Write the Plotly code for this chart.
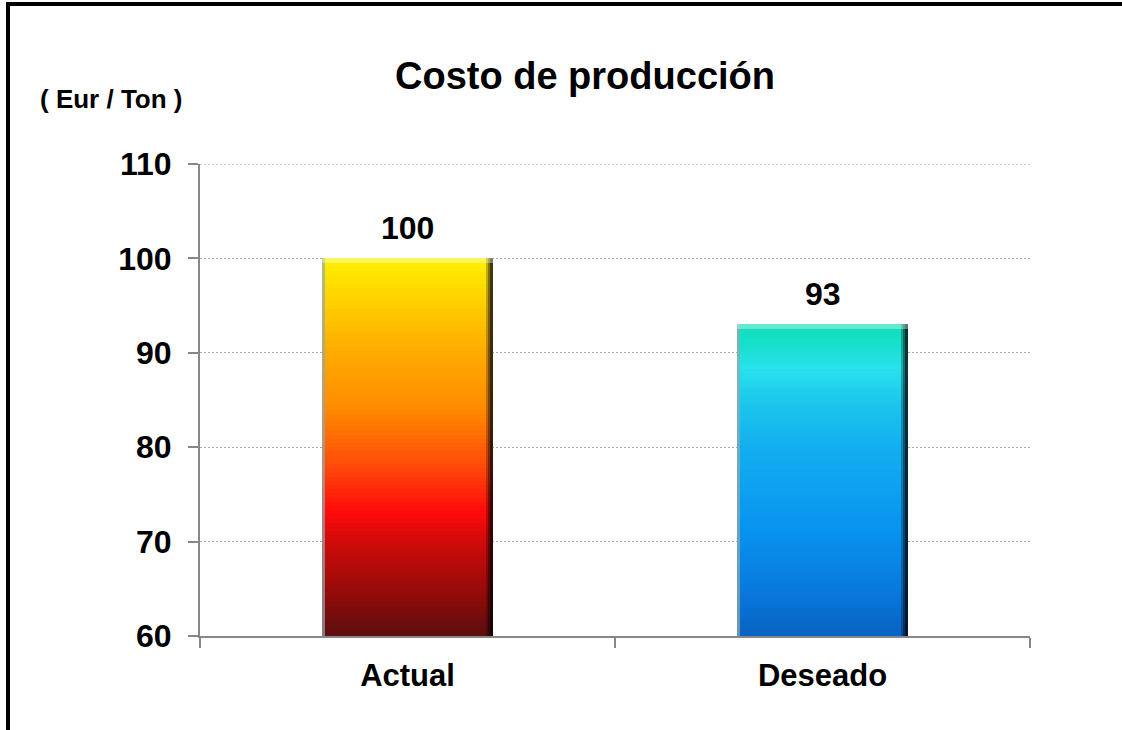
import plotly.graph_objects as go

# ---- data ----
categories = ["Actual", "Deseado"]
values = [100, 93]
y_tick_values = [60, 70, 80, 90, 100, 110]
title_text = "Costo de producción"
unit_text = "( Eur / Ton )"

# ---- style ----
Y_MIN, Y_MAX = 60, 110
BAR_W = 0.41
N_SEG = 90
FONT = "Liberation Sans"
GRID = dict(color="#a8a8a8", width=1, dash="2px,2px")
gradients = {
    "Actual": [
        (0.00, "#5C0E10"), (0.10, "#8E0A0A"), (0.25, "#D00A0A"), (0.33, "#FF0A0A"),
        (0.45, "#FF4A0A"), (0.60, "#FF8A00"), (0.75, "#FFAA00"), (0.90, "#FFD400"),
        (1.00, "#FFF200"),
    ],
    "Deseado": [
        (0.00, "#0862C2"), (0.15, "#087ADE"), (0.35, "#0894F0"), (0.60, "#12AEF0"),
        (0.75, "#1CC6EC"), (0.86, "#28E2EC"), (0.94, "#16E0CC"), (1.00, "#10DEB6"),
    ],
}


def hex2rgb(h):
    h = h.lstrip("#")
    return tuple(int(h[i:i + 2], 16) for i in (0, 2, 4))


def interp(stops, t):
    for (t0, c0), (t1, c1) in zip(stops[:-1], stops[1:]):
        if t0 <= t <= t1:
            f = 0 if t1 == t0 else (t - t0) / (t1 - t0)
            a, b = hex2rgb(c0), hex2rgb(c1)
            r = [round(a[k] + (b[k] - a[k]) * f) for k in range(3)]
            return f"rgb({r[0]},{r[1]},{r[2]})"
    return stops[-1][1]


seg_x, seg_base, seg_h, seg_col = [], [], [], []
for cat, val in zip(categories, values):
    h = (val - Y_MIN) / N_SEG
    for i in range(N_SEG):
        seg_x.append(cat)
        seg_base.append(Y_MIN + i * h)
        seg_h.append(h * 1.02 if i < N_SEG - 1 else h)
        seg_col.append(interp(gradients[cat], (i + 0.5) / N_SEG))

fig = go.Figure()
fig.add_trace(go.Bar(
    x=seg_x, y=seg_h, base=seg_base, width=BAR_W,
    marker=dict(color=seg_col, line=dict(width=0)),
    hoverinfo="skip", showlegend=False,
))

# bevel edges (derived from the values)
heights = [v - Y_MIN for v in values]
for w, a in [(0.016, 0.25), (0.011, 0.35), (0.006, 0.5)]:
    fig.add_trace(go.Bar(
        x=categories, y=heights, base=[Y_MIN] * len(values), width=w,
        offset=BAR_W / 2 - w, marker=dict(color=f"rgba(0,0,0,{a})", line=dict(width=0)),
        hoverinfo="skip", showlegend=False,
    ))
fig.add_trace(go.Bar(
    x=categories, y=heights, base=[Y_MIN] * len(values), width=0.005,
    offset=-BAR_W / 2, marker=dict(color="rgba(150,170,170,0.7)", line=dict(width=0)),
    hoverinfo="skip", showlegend=False,
))
fig.add_trace(go.Bar(
    x=categories, y=[0.5] * len(values), base=[v - 0.5 for v in values], width=BAR_W,
    marker=dict(color="rgba(255,255,255,0.35)", line=dict(width=0)),
    hoverinfo="skip", showlegend=False,
))

for cat, val in zip(categories, values):
    fig.add_annotation(
        x=cat, y=val, text=str(val), showarrow=False, yanchor="bottom", yshift=10,
        font=dict(family=FONT, size=32, color="black", weight="bold"),
    )

# plot area in page pixels: x 200..1030, y 164..636
def px(X):
    return (X - 200) / 830


def py(Y):
    return (636 - Y) / 472


fig.add_annotation(
    xref="paper", yref="paper", x=px(585), y=py(76),
    text=title_text, showarrow=False, xanchor="center", yanchor="middle",
    font=dict(family=FONT, size=38, color="black", weight="bold"),
)
fig.add_annotation(
    xref="paper", yref="paper", x=px(38), y=py(99),
    text=unit_text, showarrow=False, xanchor="left", yanchor="middle",
    font=dict(family=FONT, size=26, color="black", weight="bold"),
)

# top gridline (at the axis maximum, which plotly does not draw)
fig.add_shape(type="line", xref="paper", yref="y", x0=0, x1=1, y0=Y_MAX, y1=Y_MAX,
              line=GRID, layer="below")

# outer frame (left and top)
frame = dict(color="black", width=4)
fig.add_shape(type="line", xref="paper", yref="paper", x0=px(8), x1=px(8), y0=py(740), y1=py(2), line=frame)
fig.add_shape(type="line", xref="paper", yref="paper", x0=px(6), x1=px(1125), y0=py(4), y1=py(4), line=frame)

fig.update_layout(
    width=1122, height=730,
    margin=dict(l=200, r=92, t=164, b=94),
    paper_bgcolor="white", plot_bgcolor="white",
    barmode="overlay", bargap=0, showlegend=False,
    xaxis=dict(
        type="category", categoryorder="array", categoryarray=categories,
        range=[-0.5, 1.5], showgrid=False, showline=True, linecolor="#878787", linewidth=2,
        ticks="outside", tickson="boundaries", ticklen=10, tickwidth=2, tickcolor="#878787",
        tickfont=dict(family=FONT, size=31, color="black", weight="bold"),
        ticklabelstandoff=11,
    ),
    yaxis=dict(
        range=[Y_MIN, Y_MAX], tickvals=y_tick_values, showgrid=True, gridcolor=GRID["color"],
        griddash=GRID["dash"], gridwidth=1, showline=True, linecolor="#878787", linewidth=2,
        ticks="outside", ticklen=10, tickwidth=2, tickcolor="#878787", zeroline=False,
        tickfont=dict(family=FONT, size=32, color="black", weight="bold"),
        ticklabelstandoff=10,
    ),
)

fig.write_html("out.html", config={"displayModeBar": False},
               post_script="document.body.style.margin='0';")
